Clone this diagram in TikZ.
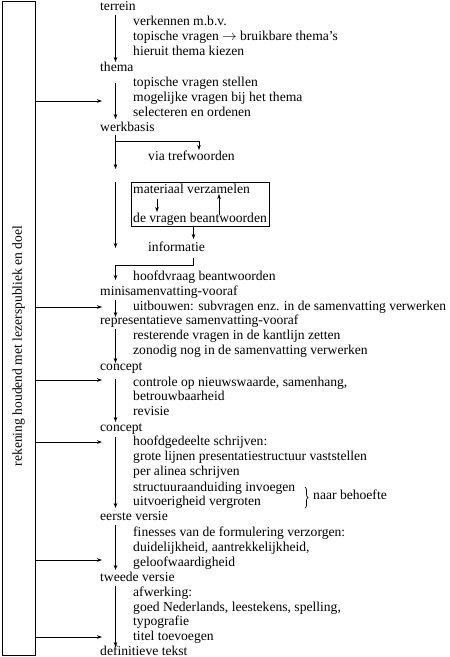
\documentclass[tikz,border=0pt]{standalone}
\usepackage{fontspec}
\setmainfont{Liberation Serif}
\usetikzlibrary{arrows.meta,decorations.pathreplacing,fit}
\begin{document}
\begin{tikzpicture}[x=1pt,y=-1pt,
  txt/.style={anchor=base west, inner sep=0pt, font=\fontsize{13.6}{15}\selectfont},
  arr/.style={-{Stealth[length=5pt,width=3.6pt]}, line width=0.7pt},
  ln/.style={line width=0.7pt}]
\useasboundingbox (0,0) rectangle (450,657);
\coordinate (spine) at (115.5,0);
% side box
\node[draw, line width=0.8pt, minimum width=33pt, minimum height=654pt, anchor=north west, inner sep=0pt] (side) at (2,1) {};
\node[txt, anchor=center, rotate=90] (lbl) at (18.5,346) {rekening houdend met lezerspubliek en doel};
% texts
\node[txt] (terrein) at (100,10) {terrein};
\node[txt] (t1) at (133,25) {verkennen m.b.v.};
\node[txt] (t2) at (133,40) {topische vragen $\rightarrow$ bruikbare thema's};
\node[txt] (t3) at (133,55) {hieruit thema kiezen};
\node[txt] (thema) at (100,71) {thema};
\node[txt] (h1) at (133,86) {topische vragen stellen};
\node[txt] (h2) at (133,101) {mogelijke vragen bij het thema};
\node[txt] (h3) at (133,116) {selecteren en ordenen};
\node[txt] (werkbasis) at (100,131) {werkbasis};
\node[txt] (via) at (148,160) {via trefwoorden};
\node[txt] (mat) at (133,193) {materiaal verzamelen};
\node[txt] (vrag) at (133,222) {de vragen beantwoorden};
\node[draw, line width=0.7pt, fit=(mat)(vrag), inner xsep=2pt, inner ysep=1pt] (box) {};
\node[txt] (info) at (148,251) {informatie};
\node[txt] (hoofd) at (133,280) {hoofdvraag beantwoorden};
\node[txt] (mini) at (100,295) {minisamenvatting-vooraf};
\node[txt] (m1) at (133,310) {\resizebox{313pt}{\height}{uitbouwen: subvragen enz. in de samenvatting verwerken}};
\node[txt] (repr) at (100,324) {representatieve samenvatting-vooraf};
\node[txt] (r1) at (133,339) {resterende vragen in de kantlijn zetten};
\node[txt] (r2) at (133,354) {zonodig nog in de samenvatting verwerken};
\node[txt] (conc1) at (100,370) {concept};
\node[txt] (c1) at (133,386) {controle op nieuwswaarde, samenhang,};
\node[txt] (c2) at (133,400) {betrouwbaarheid};
\node[txt] (c3) at (133,415) {revisie};
\node[txt] (conc2) at (100,431) {concept};
\node[txt] (d1) at (133,445) {hoofdgedeelte schrijven:};
\node[txt] (d2) at (133,460) {grote lijnen presentatiestructuur vaststellen};
\node[txt] (d3) at (133,475) {per alinea schrijven};
\node[txt] (d4) at (133,491) {structuuraanduiding invoegen};
\node[txt] (d5) at (133,505) {uitvoerigheid vergroten};
\node[txt] (nb) at (313,499) {naar behoefte};
\node[txt] (eerste) at (100,520) {eerste versie};
\node[txt] (e1) at (133,536) {finesses van de formulering verzorgen:};
\node[txt] (e2) at (133,551) {duidelijkheid, aantrekkelijkheid,};
\node[txt] (e3) at (133,566) {geloofwaardigheid};
\node[txt] (tweede) at (100,581) {tweede versie};
\node[txt] (w1) at (133,596) {afwerking:};
\node[txt] (w2) at (133,611) {goed Nederlands, leestekens, spelling,};
\node[txt] (w3) at (133,625) {typografie};
\node[txt] (w4) at (133,640) {titel toevoegen};
\node[txt] (def) at (100,655) {definitieve tekst};
% brace
\draw[ln, decorate, decoration={brace, amplitude=3pt}] ([xshift=-8pt,yshift=12pt]nb.base west) -- ([xshift=-8pt,yshift=-9pt]nb.base west);
% main spine arrows
\draw[arr] ([yshift=-5pt]terrein.base -| spine) -- ([yshift=9pt]thema.base -| spine);
\draw[arr] ([yshift=-12pt]thema.base -| spine) -- ([yshift=12pt]werkbasis.base -| spine);
\draw[arr] ([yshift=-4pt]werkbasis.base -| spine) -- ([yshift=-38pt]werkbasis.base -| spine);
\coordinate (vx) at (199,0);
\draw[arr] ([yshift=-10pt]werkbasis.base -| spine) -| ([yshift=10pt]via.base -| vx);
\draw[arr] (box.north -| spine) -- ([yshift=3pt]info.base -| spine);
% inner box arrows
\coordinate (ia) at (157,0);
\coordinate (ib) at (219,0);
\coordinate (ic) at (193.5,0);
\draw[arr] ([yshift=-6pt]mat.base -| ia) -- ([yshift=10pt]vrag.base -| ia);
\draw[arr] ([yshift=7pt]vrag.base -| ib) -- ([yshift=-1pt]mat.base -| ib);
\draw[arr] (box.south -| ic) -- ([yshift=12pt]info.base -| ic);
% informatie -> hoofdvraag
\draw[arr] ([yshift=-7pt]info.base -| ic) -- ([yshift=-14pt]info.base -| ic) -| ([yshift=0pt]hoofd.base -| spine);
\draw[arr] ([yshift=-5pt]mini.base -| spine) -- ([yshift=7pt]repr.base -| spine);
\draw[arr] ([yshift=-5pt]repr.base -| spine) -- ([yshift=7pt]conc1.base -| spine);
\draw[arr] ([yshift=-9pt]conc1.base -| spine) -- ([yshift=9pt]conc2.base -| spine);
\draw[arr] ([yshift=-6pt]conc2.base -| spine) -- ([yshift=12pt]eerste.base -| spine);
\draw[arr] ([yshift=-5pt]eerste.base -| spine) -- ([yshift=11pt]tweede.base -| spine);
\draw[arr] ([yshift=-5pt]tweede.base -| spine) -- ([yshift=8pt]def.base -| spine);
% side arrows
\foreach \n/\yy in {1/101,2/307,3/380,4/442,5/560,6/637}{
  \coordinate (s\n) at (102,\yy);
  \draw[arr] (s\n -| side.east) -- (s\n);
}
\end{tikzpicture}
\end{document}
